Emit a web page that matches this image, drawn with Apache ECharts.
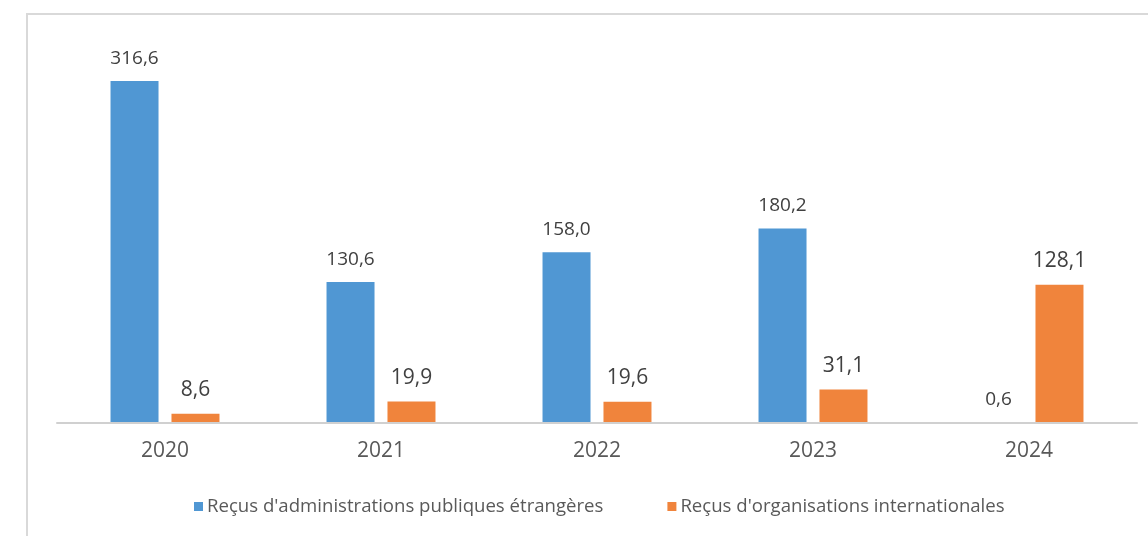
<!DOCTYPE html>
<html>
<head>
<meta charset="utf-8">
<script src="https://cdn.jsdelivr.net/npm/echarts@6/dist/echarts.min.js"></script>
<style>
html,body{margin:0;padding:0;background:#fff;}
#chart{width:1148px;height:536px;}
</style>
</head>
<body>
<div id="chart"></div>
<script>
const categories = ['2020', '2021', '2022', '2023', '2024'];
const seriesNames = ["Reçus d'administrations publiques étrangères", "Reçus d'organisations internationales"];
const adminPubliques = [316.6, 130.6, 158.0, 180.2, 0.6];
const orgInternationales = [8.6, 19.9, 19.6, 31.1, 128.1];

const fmt = v => v.toFixed(1).replace('.', ',');
const FONT = '"Open Sans", sans-serif';

const chart = echarts.init(document.getElementById('chart'));
chart.setOption({
  animation: false,
  backgroundColor: '#ffffff',
  graphic: [{
    type: 'rect',
    shape: { x: 27, y: 14, width: 1200, height: 600 },
    style: { fill: 'none', stroke: '#d9d9d9', lineWidth: 2 },
    silent: true
  }],
  grid: { left: 57, right: 11, top: 45, bottom: 113 },
  legend: {
    left: 194, top: 497, padding: 0,
    itemWidth: 9, itemHeight: 9, itemGap: 64,
    icon: 'rect',
    textStyle: { fontFamily: FONT, fontSize: 18.6, color: '#595959', padding: [0, 0, 0, -1] },
    data: seriesNames
  },
  xAxis: {
    type: 'category',
    data: categories,
    z: 5,
    axisLine: { lineStyle: { color: '#d0d0d0', width: 2 } },
    axisTick: { show: false },
    axisLabel: { fontFamily: FONT, fontSize: 21, color: '#595959', margin: 18 }
  },
  yAxis: {
    type: 'value', min: 0, max: 350, show: false,
    splitLine: { show: false }
  },
  series: [{
    name: seriesNames[0],
    type: 'bar',
    data: adminPubliques,
    barWidth: 48,
    barGap: '27%',
    itemStyle: { color: '#5097d3' },
    label: { show: true, position: 'top', distance: 13, fontFamily: FONT, fontSize: 19, color: '#404040',
      formatter: p => fmt(p.value) }
  }, {
    name: seriesNames[1],
    type: 'bar',
    data: orgInternationales,
    barWidth: 48,
    itemStyle: { color: '#f0843c' },
    label: { show: true, position: 'top', distance: 13, fontFamily: FONT, fontSize: 21, color: '#404040',
      formatter: p => fmt(p.value) }
  }]
});
</script>
</body>
</html>
